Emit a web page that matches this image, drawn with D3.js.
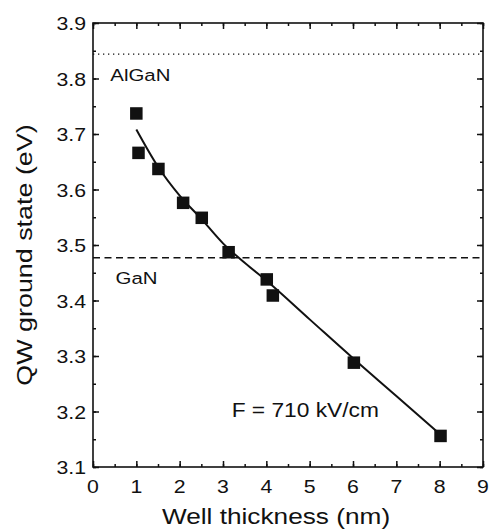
<!DOCTYPE html>
<html>
<head>
<meta charset="utf-8">
<script src="https://d3js.org/d3.v7.min.js"></script>
<style>
    body { margin: 0; background: #fff; }
    text { font-family: "Liberation Sans", Arial, sans-serif; fill: #111; }
</style>
</head>
<body>
<div id="chart"></div>
<script>

// measured ground state energies
var thickness = [1.0, 1.05, 1.51, 2.08, 2.51, 3.13, 4.01, 4.15, 6.02, 8.02];
var energy = [3.737, 3.666, 3.637, 3.576, 3.549, 3.487, 3.438, 3.409, 3.288, 3.156];

// calculated curve for F = 710 kV/cm
var fitX = [1.0, 1.5, 2.0, 2.5, 3.0, 3.5, 4.0, 5.0, 6.0, 7.0, 7.95];
var fitY = [3.708, 3.641, 3.589, 3.547, 3.503, 3.468, 3.436, 3.366, 3.296, 3.228, 3.163];

// barrier / bulk levels
var levelNames = ['AlGaN', 'GaN'];
var levelValues = [3.844, 3.477];

var xTicks = [0, 1, 2, 3, 4, 5, 6, 7, 8, 9];
var yTicks = [3.1, 3.2, 3.3, 3.4, 3.5, 3.6, 3.7, 3.8, 3.9];

var margin = {top: 23, right: 7, bottom: 62, left: 93},
    width = 490 - margin.left - margin.right,
    height = 529 - margin.top - margin.bottom;

var svg = d3.select('#chart').append('svg')
        .attr('width', 490)
        .attr('height', 529),
    g = svg.append('g')
        .attr('transform', 'translate(' + margin.left + ',' + margin.top + ')');

var x = d3.scaleLinear().domain([0, 9]).range([0, width]);
var y = d3.scaleLinear().domain([3.1, 3.9]).range([height, 0]);

// minor ticks
var xMinor = d3.range(0, 9.01, 0.5);
var yMinor = d3.range(3.1, 3.901, 0.05);

// axes, ticks pointing inward on all four sides
function axisStyle(sel) {
    sel.select('.domain').remove();
    sel.selectAll('line').attr('stroke', '#111').attr('stroke-width', 1.5);
}

g.append('g').attr('transform', 'translate(0,' + height + ')')
    .call(d3.axisBottom(x).tickValues(xMinor).tickSize(-3).tickFormat(''))
    .call(axisStyle);
g.append('g').attr('transform', 'translate(0,' + height + ')')
    .call(d3.axisBottom(x).tickValues(xTicks).tickSize(-6).tickFormat(''))
    .call(axisStyle);
g.append('g')
    .call(d3.axisTop(x).tickValues(xMinor).tickSize(-3).tickFormat(''))
    .call(axisStyle);
g.append('g')
    .call(d3.axisTop(x).tickValues(xTicks).tickSize(-6).tickFormat(''))
    .call(axisStyle);
g.append('g')
    .call(d3.axisLeft(y).tickValues(yMinor).tickSize(-3).tickFormat(''))
    .call(axisStyle);
g.append('g')
    .call(d3.axisLeft(y).tickValues(yTicks).tickSize(-6).tickFormat(''))
    .call(axisStyle);
g.append('g').attr('transform', 'translate(' + width + ',0)')
    .call(d3.axisRight(y).tickValues(yMinor).tickSize(-3).tickFormat(''))
    .call(axisStyle);
g.append('g').attr('transform', 'translate(' + width + ',0)')
    .call(d3.axisRight(y).tickValues(yTicks).tickSize(-6).tickFormat(''))
    .call(axisStyle);

// frame
g.append('rect')
    .attr('width', width)
    .attr('height', height)
    .attr('fill', 'none')
    .attr('stroke', '#111')
    .attr('stroke-width', 1.6);

// wide-ish text, like the original figure
function label(parent, px, py, str, size, sx, anchor, rot) {
    return parent.append('text')
        .attr('transform', 'translate(' + px + ',' + py + ')' + (rot ? ' rotate(-90)' : '') + ' scale(' + sx + ',1)')
        .attr('text-anchor', anchor)
        .style('font-size', size + 'px')
        .text(str);
}

// tick labels
xTicks.forEach(function(d) {
    label(g, x(d), height + 26, d, 19, 1.12, 'middle');
});
yTicks.forEach(function(d) {
    label(g, -7, y(d) + 7, d.toFixed(1), 19, 1.12, 'end');
});

// axis titles
label(svg, 276, 524, 'Well thickness (nm)', 21.5, 1.22, 'middle');
label(svg, 32, 255, 'QW ground state (eV)', 21.5, 1.25, 'middle', true);

// reference levels
g.append('line')
    .attr('x1', 0).attr('x2', width)
    .attr('y1', y(levelValues[0])).attr('y2', y(levelValues[0]))
    .attr('stroke', '#111').attr('stroke-width', 1.3)
    .attr('stroke-dasharray', '1.3,3.7');
g.append('line')
    .attr('x1', 0).attr('x2', width)
    .attr('y1', y(levelValues[1])).attr('y2', y(levelValues[1]))
    .attr('stroke', '#111').attr('stroke-width', 1.5)
    .attr('stroke-dasharray', '7,4.5');

label(g, x(0.4), y(levelValues[0]) + 27, levelNames[0], 17, 1.2, 'start');
label(g, x(0.52), y(levelValues[1]) + 26, levelNames[1], 17, 1.2, 'start');

// fitted curve
var line = d3.line()
    .x(function(d) { return x(d[0]); })
    .y(function(d) { return y(d[1]); })
    .curve(d3.curveMonotoneX);

g.append('path')
    .datum(d3.zip(fitX, fitY))
    .attr('d', line)
    .attr('fill', 'none')
    .attr('stroke', '#111')
    .attr('stroke-width', 2);

// data squares
var sq = 12.5;
g.selectAll('.pt')
    .data(d3.zip(thickness, energy))
    .enter().append('rect')
    .attr('class', 'pt')
    .attr('x', function(d) { return x(d[0]) - sq / 2; })
    .attr('y', function(d) { return y(d[1]) - sq / 2; })
    .attr('width', sq)
    .attr('height', sq)
    .attr('fill', '#111');

label(g, x(3.2), y(3.2) + 5, 'F = 710 kV/cm', 20.5, 1.11, 'start');

</script>
</body>
</html>
